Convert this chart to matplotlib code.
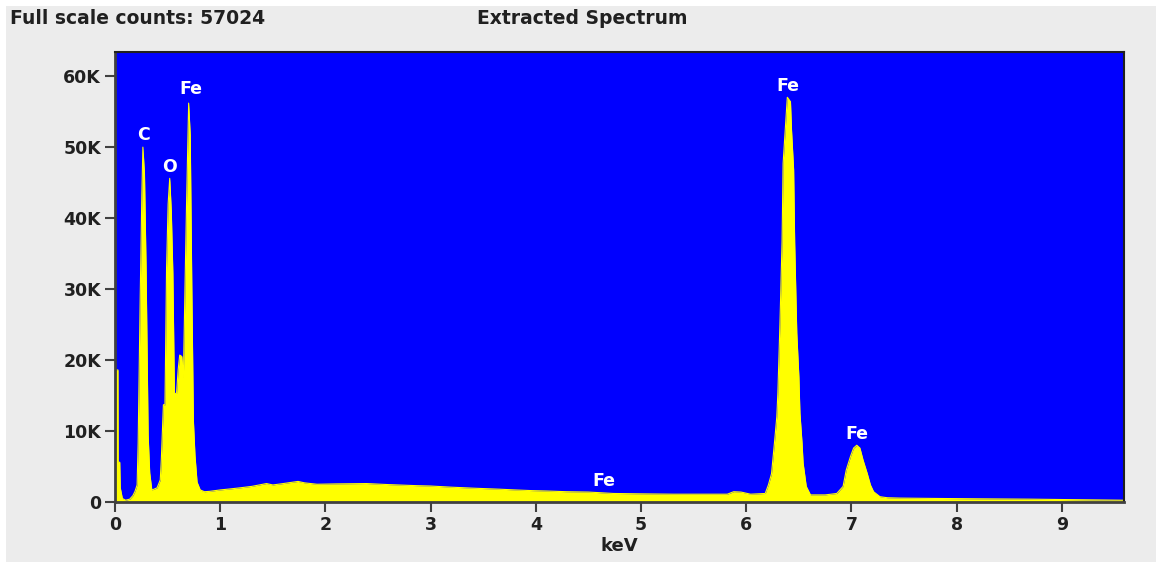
import matplotlib
matplotlib.use("Agg")
import matplotlib.pyplot as plt
import numpy as np

# spectrum (keV, counts)
energy = [0.00, 0.028, 0.030, 0.045, 0.05, 0.07, 0.10, 0.14, 0.17, 0.19, 0.21,
          0.22, 0.24, 0.255, 0.265, 0.28, 0.295, 0.315, 0.33, 0.35, 0.37,
          0.40, 0.43, 0.44, 0.46, 0.475, 0.49, 0.505, 0.52, 0.535, 0.55,
          0.565, 0.585, 0.60, 0.615, 0.635, 0.65, 0.665, 0.68, 0.70, 0.715,
          0.73, 0.745, 0.76, 0.78, 0.81, 0.85, 0.90, 1.00, 1.10, 1.19, 1.30,
          1.44, 1.50, 1.60, 1.74, 1.80, 1.92, 2.10, 2.39, 2.60, 2.87, 3.00,
          3.18, 3.40, 3.66, 3.80, 3.97, 4.10, 4.29, 4.50, 4.74, 5.00, 5.31,
          5.60, 5.82, 5.88, 5.95, 6.04, 6.18, 6.21, 6.24, 6.27, 6.29, 6.30,
          6.32, 6.34, 6.35, 6.37, 6.39, 6.42, 6.43, 6.45, 6.46, 6.48, 6.50,
          6.51, 6.53, 6.54, 6.57, 6.61, 6.75, 6.86, 6.92, 6.95, 6.99, 7.02,
          7.05, 7.08, 7.11, 7.15, 7.18, 7.21, 7.27, 7.34, 7.46, 7.80, 8.20,
          8.70, 8.99, 9.30, 9.60]
counts = [18600, 18600, 5600, 5600, 2000, 500, 250, 400, 900, 1500, 2400,
          8300, 29400, 43200, 50000, 46300, 33400, 9400, 4100, 1700, 1800,
          2000, 3100, 5900, 13700, 13700, 33000, 42000, 45600, 41000, 32200,
          15300, 15300, 18600, 20700, 20500, 17600, 30100, 42000, 56200, 51700,
          30300, 11500, 6600, 2800, 1700, 1450, 1500, 1700, 1850, 2000, 2200,
          2600, 2400, 2600, 2900, 2700, 2500, 2550, 2600, 2450, 2300, 2250,
          2100, 1950, 1800, 1700, 1600, 1550, 1450, 1400, 1200, 1150, 1100,
          1100, 1100, 1450, 1400, 1100, 1200, 2400, 4000, 8700, 12000, 15300,
          25200, 36700, 47700, 52400, 57024, 56400, 52400, 46800, 36500, 23800, 17600,
          12500, 8300, 5500, 2200, 1000, 1000, 1200, 2200, 4500, 6400, 7600,
          8000, 7600, 5900, 4000, 2400, 1450, 750, 600, 550, 500, 450,
          400, 350, 300, 250]

peak_labels = ["C", "O", "Fe", "Fe", "Fe", "Fe"]
peak_x = [0.27, 0.52, 0.72, 6.40, 7.05, 4.65]
peak_y = [51700, 47200, 58200, 58600, 9600, 3000]

fig = plt.figure(figsize=(11.56, 5.62), dpi=100, facecolor="white")
# grey panel with thin white border at top/left
fig.patches.append(plt.Rectangle((6 / 1156, -0.1), 2, 1.1 - 6 / 562, transform=fig.transFigure,
                                 facecolor="#ececec", edgecolor="none", zorder=-1))

ax = fig.add_axes([115 / 1156, 60 / 562, 1009 / 1156, 450 / 562])
ax.set_facecolor("#0000ff")
ax.fill_between(energy, counts, 0, color="#ffff00", linewidth=0)
ax.plot(energy, counts, color="#ffff00", linewidth=0.8)

for lab, x, y in zip(peak_labels, peak_x, peak_y):
    ax.text(x, y, lab, color="white", fontsize=12.5, fontweight="bold",
            ha="center", va="center")

ax.set_xlim(0, 9.59)
ax.set_ylim(0, 63400)
ax.set_xticks(range(10))
ax.set_yticks([0, 10000, 20000, 30000, 40000, 50000, 60000])
ax.set_yticklabels(["0", "10K", "20K", "30K", "40K", "50K", "60K"])
ax.tick_params(length=7, width=1.5, color="#404040", labelsize=12.5, pad=3,
               labelcolor="#202020")
for lab in ax.get_xticklabels() + ax.get_yticklabels():
    lab.set_fontweight("bold")
for side in ["left", "bottom"]:
    ax.spines[side].set_color("#404040")
    ax.spines[side].set_linewidth(2)
for side in ["top", "right"]:
    ax.spines[side].set_color("#202020")
    ax.spines[side].set_linewidth(1.5)

ax.set_xlabel("keV", fontsize=13, fontweight="bold", labelpad=2, color="#202020")

fig.text(10 / 1156, 1 - 18 / 562, "Full scale counts: 57024", fontsize=13.5,
         fontweight="bold", va="center", ha="left", color="#202020")
fig.text(477 / 1156, 1 - 18 / 562, "Extracted Spectrum", fontsize=13.5,
         fontweight="bold", va="center", ha="left", color="#202020")

fig.savefig("out.png", dpi=100, facecolor=fig.get_facecolor())
